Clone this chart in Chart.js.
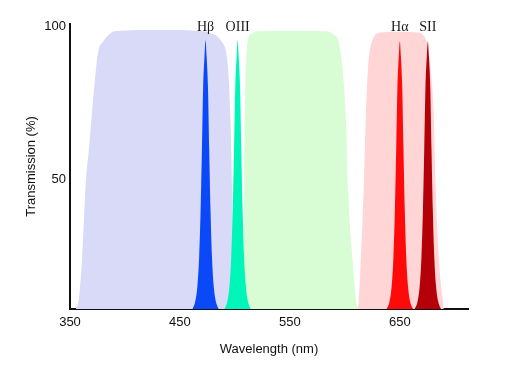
<!DOCTYPE html>
<html>
<head>
<meta charset="utf-8">
<script src="https://cdn.jsdelivr.net/npm/chart.js@4/dist/chart.umd.min.js"></script>
<style>
  html, body { margin: 0; padding: 0; background: #fff; }
  #wrap { width: 509px; height: 385px; }
</style>
</head>
<body>
<div id="wrap"><canvas id="filterChart" width="509" height="385"></canvas></div>
<script>
"use strict";

// broad band filters (wavelength nm / transmission %)
const blueBandX = [355, 358, 361, 364.5, 367, 372, 375.5, 380, 385.5, 392, 430, 470, 478, 483, 488, 492, 494, 496, 497.5, 499, 500];
const blueBandY = [7.7, 10.8, 24, 50, 59, 80, 91.5, 95, 97.4, 98.5, 98.8, 98.5, 97.8, 97, 95, 91.5, 85, 69, 45, 20, 7.7];

const greenBandX = [508, 508.2, 508.5, 509, 510, 512, 515, 520, 550, 584, 590, 594, 598, 601, 603, 605, 607, 610, 612];
const greenBandY = [7.7, 24, 50, 69.6, 86, 95.8, 97.5, 98.4, 98.6, 98.4, 97.3, 95.4, 85.6, 69, 45.7, 33, 23.9, 10.8, 7.7];

const redBandX = [611, 612.7, 614.5, 617, 619, 621, 625.5, 632.7, 650, 666, 673.6, 678, 681, 682.7, 685.5, 689, 690];
const redBandY = [7.7, 10.8, 23.9, 45.7, 69.6, 86, 95.8, 98, 98.3, 98, 95.8, 86, 69.6, 45.7, 23.9, 10.8, 7.7];

// narrow emission line filters
const hbX = [461.3, 463.8, 465.8, 467.5, 468.8, 470, 471.1, 472.3, 473.3, 474.3, 475.5, 476.6, 477.8, 479.1, 480.8, 482.8, 485.3];
const hbY = [7.7, 10, 15, 25, 40, 60, 80, 90, 95.5, 90, 80, 60, 40, 25, 15, 10, 7.7];

const o3X = [490.5, 493, 495, 496.7, 498, 499.2, 500.3, 501.5, 502.5, 503.5, 504.7, 505.8, 507, 508.3, 510, 512, 514.5];
const o3Y = [7.7, 10, 15, 25, 40, 60, 80, 90, 95.5, 90, 80, 60, 40, 25, 15, 10, 7.7];

const haX = [638, 640.5, 642.5, 644.2, 645.5, 646.7, 647.8, 649, 650, 651, 652.2, 653.3, 654.5, 655.8, 657.5, 659.5, 662];
const haY = [7.7, 10, 15, 25, 40, 60, 80, 90, 95.2, 90, 80, 60, 40, 25, 15, 10, 7.7];

const s2X = [663.5, 666, 668, 669.7, 671, 672.2, 673.3, 674.5, 675.5, 676.5, 677.7, 678.8, 680, 681.3, 683, 685, 687.5];
const s2Y = [7.7, 10, 15, 25, 40, 60, 80, 90, 95.2, 90, 80, 60, 40, 25, 15, 10, 7.7];

const lineNames = ["Hβ", "OIII", "Hα", "SII"];
const lineCenters = [473.3, 502.5, 650, 675.5];

const xTicks = [350, 450, 550, 650];
const yTicks = [50, 100];

function pts(xs, ys) {
  return xs.map((x, i) => ({ x: x, y: ys[i] }));
}

// first dataset ends up on top in chart.js, so narrow lines go first
function band(xs, ys, color) {
  return {
    data: pts(xs, ys),
    backgroundColor: color,
    borderWidth: 0,
    pointRadius: 0,
    fill: "start",
    cubicInterpolationMode: "monotone"
  };
}

const lineLabels = {
  id: "lineLabels",
  afterDatasetsDraw(chart) {
    const ctx = chart.ctx;
    const xs = chart.scales.x;
    ctx.save();
    ctx.font = "14px 'Liberation Serif', serif";
    ctx.fillStyle = "#1a1a1a";
    ctx.textAlign = "center";
    ctx.textBaseline = "middle";
    lineNames.forEach((name, i) => {
      ctx.fillText(name, xs.getPixelForValue(lineCenters[i]), 27);
    });
    ctx.restore();
  }
};

const axisFont = { family: "'Liberation Sans', Arial, sans-serif", size: 13 };

new Chart(document.getElementById("filterChart"), {
  type: "line",
  data: {
    datasets: [
      band(hbX, hbY, "#0a48f8"),
      band(o3X, o3Y, "#00f5b8"),
      band(haX, haY, "#ff0a0a"),
      band(s2X, s2Y, "#b40008"),
      band(blueBandX, blueBandY, "#d8daf8"),
      band(greenBandX, greenBandY, "#d8fcd4"),
      band(redBandX, redBandY, "#ffd5d5")
    ]
  },
  options: {
    responsive: false,
    animation: false,
    layout: { padding: { top: 24, right: 41, left: 0, bottom: 0 } },
    plugins: { legend: { display: false }, tooltip: { enabled: false } },
    scales: {
      x: {
        type: "linear",
        min: 350,
        max: 712,
        grid: { display: false, drawTicks: false },
        border: { color: "#111", width: 2 },
        afterBuildTicks: s => { s.ticks = xTicks.map(v => ({ value: v })); },
        afterFit: s => { s.height = 76; },
        ticks: { color: "#111", font: axisFont, padding: 6, maxRotation: 0 },
        title: { display: true, text: "Wavelength (nm)", color: "#111", font: axisFont, padding: { bottom: 28 } }
      },
      y: {
        min: 7.7,
        max: 100.8,
        grid: { display: false, drawTicks: false },
        border: { color: "#111", width: 2 },
        afterBuildTicks: s => { s.ticks = yTicks.map(v => ({ value: v })); },
        afterFit: s => { s.width = 70; },
        ticks: { color: "#111", font: axisFont, padding: 4 },
        title: { display: true, text: "Transmission (%)", color: "#111", font: axisFont, padding: { top: 24 } }
      }
    }
  },
  plugins: [lineLabels]
});
</script>
</body>
</html>
